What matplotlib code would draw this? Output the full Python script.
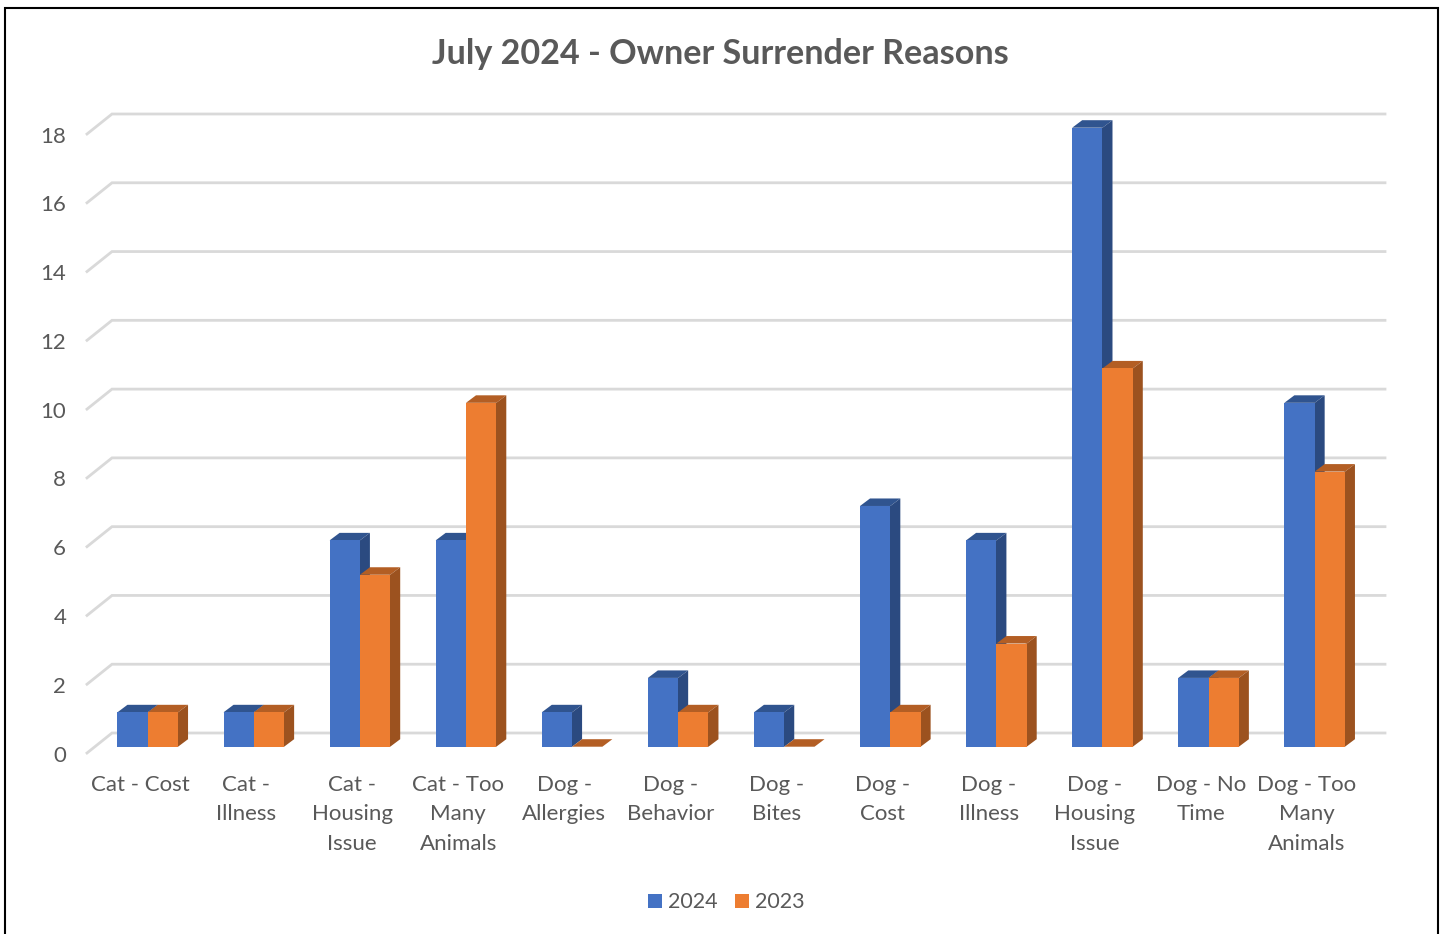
import matplotlib
matplotlib.use("Agg")
import matplotlib.pyplot as plt
from matplotlib.patches import Polygon, Rectangle
from matplotlib.transforms import ScaledTranslation

plt.rcParams["font.family"] = ["Lato", "DejaVu Sans"]

TITLE = "July 2024 - Owner Surrender Reasons"
CATEGORIES = [
    "Cat - Cost", "Cat -\nIllness", "Cat -\nHousing\nIssue", "Cat - Too\nMany\nAnimals",
    "Dog -\nAllergies", "Dog -\nBehavior", "Dog -\nBites", "Dog -\nCost",
    "Dog -\nIllness", "Dog -\nHousing\nIssue", "Dog - No\nTime", "Dog - Too\nMany\nAnimals",
]
VALUES_2024 = [1, 1, 6, 6, 1, 2, 1, 7, 6, 18, 2, 10]
VALUES_2023 = [1, 1, 5, 10, 0, 1, 0, 1, 3, 11, 2, 8]
Y_TICKS = [0, 2, 4, 6, 8, 10, 12, 14, 16, 18]

W, H = 1444, 934
TEXT = "#595959"
GRID = "#d9d9d9"
BLUE = ("#4472c4", "#30548f", "#2b4a80")
ORANGE = ("#ed7d31", "#b35e24", "#9c521f")

# pixel geometry of the fake 3d box
LEFT, RIGHT = 87, 1360
ZERO, TOP = 753, 134
CAT_PX = (RIGHT - LEFT) / len(CATEGORIES)
UNIT_PX = (ZERO - TOP) / 18
WALL_DX, WALL_DY = 25 / CAT_PX, 20 / UNIT_PX
BAR_W = 30.3 / CAT_PX
BAR_SHIFT = 7.7 / CAT_PX
BAR_BASE = 6.3 / UNIT_PX
DEPTH_DX, DEPTH_DY = 10 / CAT_PX, 7.5 / UNIT_PX
SEAM_X = 1 / CAT_PX  # side face runs 1px under the front face, avoids a white seam


def draw_box(ax, x, value, colors):
    left, right = x, x + BAR_W
    low, high = BAR_BASE, BAR_BASE + value
    ax.add_patch(Polygon(
        [(left, high), (right, high), (right + DEPTH_DX, high + DEPTH_DY), (left + DEPTH_DX, high + DEPTH_DY)],
        closed=True, facecolor=colors[1], edgecolor="none", clip_on=False, zorder=3,
    ))
    if value > 0:
        ax.add_patch(Polygon(
            [(right - SEAM_X, low), (right, low), (right + DEPTH_DX, low + DEPTH_DY),
             (right + DEPTH_DX, high + DEPTH_DY), (right, high), (right - SEAM_X, high)],
            closed=True, facecolor=colors[2], edgecolor="none", clip_on=False, zorder=3,
        ))


fig = plt.figure(figsize=(W / 100, H / 100), dpi=100, facecolor="white")
fig.add_artist(Rectangle(
    (5 / W, -0.05), 1433 / W, 1.05 - 8 / H, transform=fig.transFigure,
    facecolor="none", edgecolor="black", linewidth=1.5,
))

ax = fig.add_axes([LEFT / W, 1 - ZERO / H, (RIGHT - LEFT) / W, (ZERO - TOP) / H])
ax.patch.set_alpha(0)
ax.set_xlim(-0.5, len(CATEGORIES) - 0.5)
ax.set_ylim(0, 18)
for side in ax.spines.values():
    side.set_visible(False)

x_end = len(CATEGORIES) - 0.5 + WALL_DX
for v in Y_TICKS:
    ax.plot([-0.5, -0.5 + WALL_DX, x_end], [v, v + WALL_DY, v + WALL_DY],
            color=GRID, lw=2, clip_on=False, zorder=1, solid_joinstyle="miter")

for i in range(len(CATEGORIES)):
    x_blue = i + BAR_SHIFT - BAR_W
    x_orange = i + BAR_SHIFT
    draw_box(ax, x_blue, VALUES_2024[i], BLUE)
    ax.bar(x_blue, VALUES_2024[i], BAR_W, bottom=BAR_BASE, align="edge", color=BLUE[0],
           clip_on=False, zorder=3, label="2024" if i == 0 else None)
    draw_box(ax, x_orange, VALUES_2023[i], ORANGE)
    ax.bar(x_orange, VALUES_2023[i], BAR_W, bottom=BAR_BASE, align="edge", color=ORANGE[0],
           clip_on=False, zorder=3, label="2023" if i == 0 else None)

ax.set_xticks(range(len(CATEGORIES)), CATEGORIES, fontsize=16, color=TEXT, linespacing=1.6)
ax.set_yticks(Y_TICKS, [str(v) for v in Y_TICKS], fontsize=16, color=TEXT)
ax.tick_params(axis="x", length=0, pad=15.5)
ax.tick_params(axis="y", length=0, pad=15)
for label in ax.get_yticklabels():
    label.set_transform(label.get_transform() + ScaledTranslation(0, -0.4 / 72, fig.dpi_scale_trans))

fig.text(720.5 / W, 1 - 53.5 / H, TITLE, ha="center", va="center", fontsize=24.6,
         fontweight="bold", color=TEXT)

fig.legend(loc="center", bbox_to_anchor=(726 / W, 1 - 902.5 / H), ncol=2, frameon=False,
           fontsize=15.5, labelcolor=TEXT, handlelength=0.65, handleheight=0.65,
           handletextpad=0.28, columnspacing=0.8, borderpad=0)

fig.savefig("out.png", dpi=100)
